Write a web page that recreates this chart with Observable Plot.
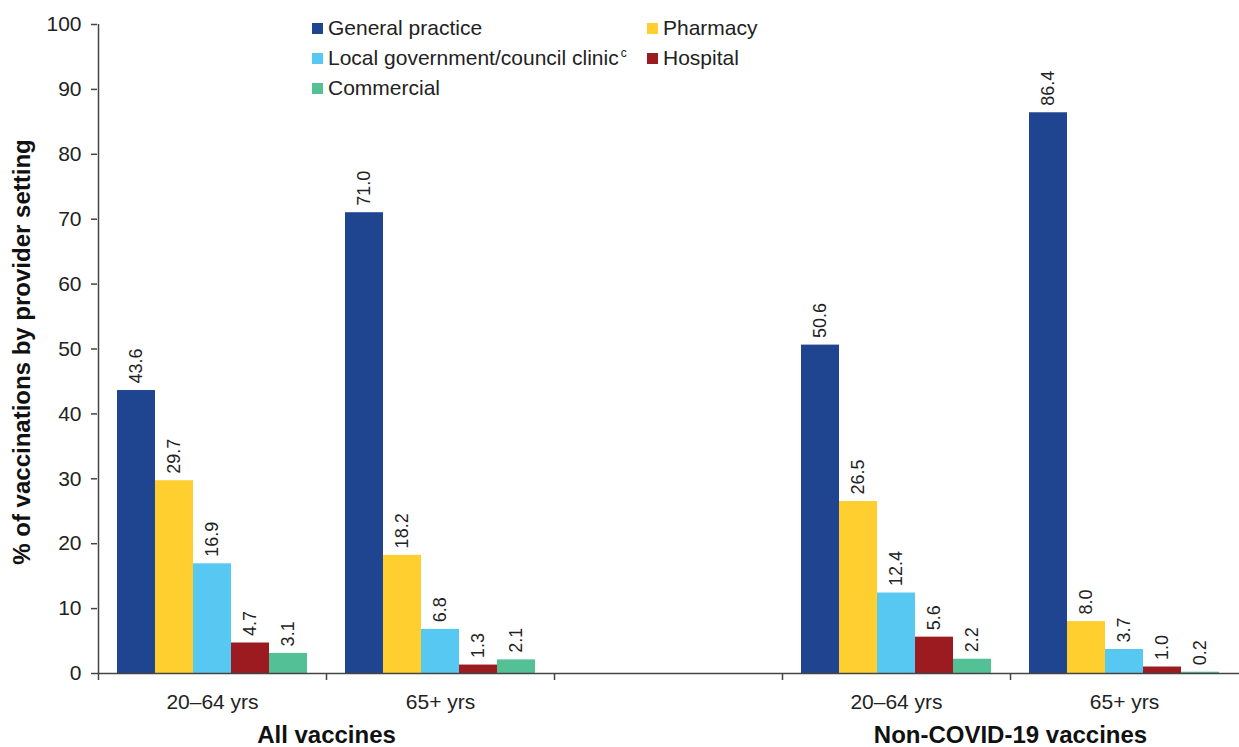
<!DOCTYPE html>
<html>
<head>
<meta charset="utf-8">
<script src="https://cdn.jsdelivr.net/npm/d3@7"></script>
<script src="https://cdn.jsdelivr.net/npm/@observablehq/plot@0.6"></script>
<style>
  body { margin: 0; background: #fff; font-family: "Liberation Sans", Arial, sans-serif; }
  #wrap { position: relative; width: 1239px; height: 747px; }
  #legend { position: absolute; left: 312px; top: 13px; display: grid; grid-template-columns: 335px auto; grid-auto-rows: 30px; font-size: 21px; color: #222; }
  #legend .item { display: flex; align-items: center; white-space: nowrap; }
  #legend .sw { display: inline-block; width: 11px; height: 11px; margin-right: 5px; }
  #legend sup { font-size: 12px; position: relative; top: -5px; margin-left: 2px; }
</style>
</head>
<body>
<div id="wrap"><div id="legend"></div></div>
<script>
// ---- Data ----
const providers = ["General practice", "Pharmacy", "Local government/council clinic", "Hospital", "Commercial"];
const providerColors = ["#1f4591", "#fecf2f", "#56c8f1", "#9c1b21", "#54c096"];
const panels = ["All vaccines", "Non-COVID-19 vaccines"];
const ageGroups = ["20–64 yrs", "65+ yrs"];
const allVaccines2064 = [43.6, 29.7, 16.9, 4.7, 3.1];
const allVaccines65 = [71.0, 18.2, 6.8, 1.3, 2.1];
const nonCovid2064 = [50.6, 26.5, 12.4, 5.6, 2.2];
const nonCovid65 = [86.4, 8.0, 3.7, 1.0, 0.2];
const yTicks = [0, 10, 20, 30, 40, 50, 60, 70, 80, 90, 100];
const yTitle = "% of vaccinations by provider setting";

// slots along x: two age groups per panel, with an empty slot between panels
const slots = [
  {panel: 0, age: 0, values: allVaccines2064},
  {panel: 0, age: 1, values: allVaccines65},
  null,
  {panel: 1, age: 0, values: nonCovid2064},
  {panel: 1, age: 1, values: nonCovid65}
];

// ---- Build table ----
const keys = [];
const rows = [];
const gapKeys = [];
slots.forEach((slot, s) => {
  keys.push(`g${s}`); gapKeys.push(`g${s}`);
  providers.forEach((p, i) => {
    const key = `${s}-${i}`;
    keys.push(key);
    if (slot) rows.push({key, provider: p, value: slot.values[i]});
  });
});
const ageLabels = [];
slots.forEach((slot, s) => { if (slot) ageLabels.push({key: `${s}-2`, label: ageGroups[slot.age]}); });
const panelLabels = [{key: "g1", label: panels[0]}, {key: "g4", label: panels[1]}];

// ---- Legend ----
const legend = document.getElementById("legend");
providers.forEach((name, i) => {
  const item = document.createElement("div");
  item.className = "item";
  const sw = document.createElement("span");
  sw.className = "sw";
  sw.style.background = providerColors[i];
  item.appendChild(sw);
  const t = document.createElement("span");
  t.textContent = name;
  item.appendChild(t);
  if (i === 2) { const sup = document.createElement("sup"); sup.textContent = "c"; item.appendChild(sup); }
  legend.appendChild(item);
});

// ---- Plot ----
const W = 1239, H = 747, mL = 97, mR = 0, mT = 24, mB = 74;
const step = (W - mL - mR) / keys.length;
const axisColor = "#444";

const chart = Plot.plot({
  width: W, height: H,
  marginLeft: mL, marginRight: mR, marginTop: mT, marginBottom: mB,
  style: {fontFamily: "'Liberation Sans', Arial, sans-serif", fontSize: "21px", color: "#222", background: "transparent", overflow: "visible"},
  x: {type: "band", domain: keys, range: [mL - step / 2, W - mR - step / 2], padding: 0},
  y: {domain: [0, 100]},
  color: {domain: providers, range: providerColors},
  marks: [
    Plot.barY(rows, {x: "key", y: "value", fill: "provider"}),
    Plot.text(rows, {x: "key", y: "value", text: d => d.value.toFixed(1), rotate: -90, textAnchor: "start", lineAnchor: "middle", dy: -7, fontSize: 18, fill: "#222"}),
    Plot.ruleY([0], {stroke: axisColor, strokeWidth: 1.5}),
    Plot.ruleX(["g0"], {x: d => d, stroke: axisColor, strokeWidth: 1.5}),
    Plot.axisY({ticks: yTicks, tickSize: 6, tickPadding: 10, fontSize: 21, label: null, stroke: axisColor, strokeWidth: 1.5}),
    Plot.axisX({ticks: gapKeys, tickSize: 7, tickFormat: () => "", label: null, stroke: axisColor, strokeWidth: 1.5}),
    Plot.text(ageLabels, {x: "key", text: "label", frameAnchor: "bottom", dy: 29, lineAnchor: "middle", fontSize: 21, fill: "#222"}),
    Plot.text(panelLabels, {x: "key", text: "label", frameAnchor: "bottom", dy: 62, lineAnchor: "middle", fontSize: 24, fontWeight: "bold", fill: "#111"}),
    Plot.text([yTitle], {text: d => d, frameAnchor: "left", textAnchor: "middle", dx: -75, dy: 3, rotate: -90, lineAnchor: "middle", fontSize: 24, fontWeight: "bold", fill: "#111"})
  ]
});
document.getElementById("wrap").prepend(chart);
chart.style.position = "absolute";
chart.style.left = "0";
chart.style.top = "0";
</script>
</body>
</html>
